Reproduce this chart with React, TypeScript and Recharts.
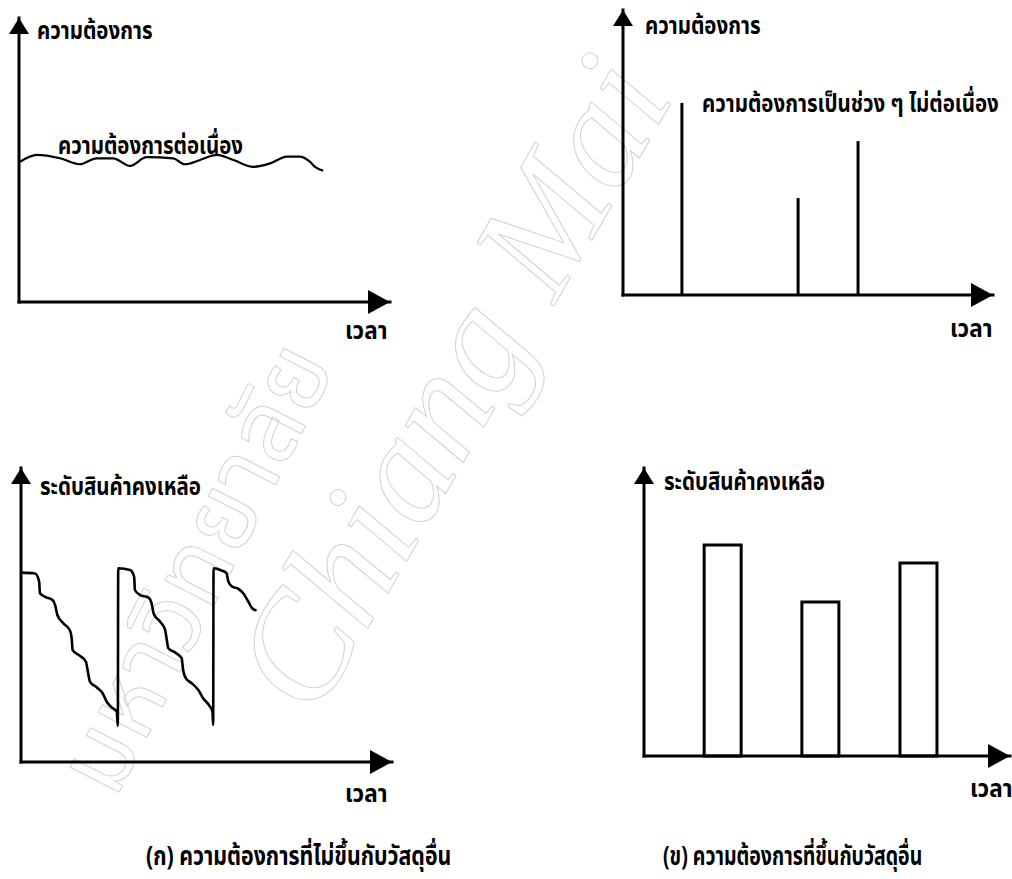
import { ComposedChart, Line, Bar, Scatter, XAxis, YAxis } from "recharts";

// (ก) บน - ความต้องการต่อเนื่อง
const steadyTime = [0.3, 4.8, 11.1, 16.4, 20.9, 25.4, 29.9, 34.4, 41.6, 44.7, 48.8, 53.3, 57.8, 63.2, 67.7, 72.2, 75.7, 78.4, 79.8, 82];
const steadyDemand = [49.4, 51.8, 50.6, 48.5, 50.6, 50.6, 47.9, 51, 50.6, 48.5, 50, 51.8, 50, 47.6, 48.8, 51.2, 51.2, 49.4, 47.6, 46.2];

// (ข) บน - ความต้องการเป็นช่วง ๆ
const lumpyTime = [15.9, 47.3, 63.5];
const lumpyDemand = [67.4, 34, 54];

// (ก) ล่าง - ระดับสินค้าคงเหลือ (ฟันเลื่อย)
const stockTime = [
  0.2, 3.8, 4.9, 5.1, 6.5, 8.5, 9.2, 9.8, 11.4, 13.2, 13.7, 13.9, 15.9, 17.5, 18.1, 18.6, 20.4, 22, 23.1, 24.4, 25.8, 26.1,
  26.2, 29.4, 30.5, 30.7, 32.1, 34.3, 35.2, 35.8, 37.5, 38.8, 39.3, 39.7, 41.5, 43.3, 43.7, 44.4, 46, 47.8, 49.1, 50.8, 51.6, 51.8,
  51.9, 54.1, 55.4, 55.9, 57, 58.6, 59.9, 61.3, 62.3, 63.5,
];
const stockLevel = [
  64.4, 64.1, 61.3, 57.4, 56.2, 55.1, 53.4, 50, 47.2, 44.7, 41.5, 38.1, 36.1, 34.1, 30.2, 27.3, 25.4, 23.4, 20.5, 18.6, 17.1, 12.3,
  65.9, 65.3, 63, 58.5, 56.8, 56, 54, 50.3, 47.7, 45.1, 41.5, 38.7, 37.3, 35.3, 31.3, 28.5, 26.8, 24.5, 21.7, 19.1, 17.1, 12.6,
  65.9, 65.1, 64.2, 61.3, 59.6, 58.9, 57.4, 54.5, 52.3, 51.5,
];

// (ข) ล่าง - ระดับสินค้าคงเหลือ เป็นล็อต
const lotTime = [21.4, 48.1, 74.9];
const lotLevel = [73.3, 53.5, 67];

const demandTitle = "ความต้องการ";
const stockTitle = "ระดับสินค้าคงเหลือ";
const timeTitle = "เวลา";

const toRows = (xs: number[], ys: number[]) => xs.map((x, i) => ({ x, y: ys[i] }));

const font = "'Noto Sans Thai', 'Noto Sans', 'DejaVu Sans', sans-serif";

function ArrowRight(props: any) {
  const { cx, cy } = props;
  return <polygon points={`${cx},${cy} ${cx - 22},${cy - 12} ${cx - 22},${cy + 12}`} fill="#000" />;
}

function ArrowUp(props: any) {
  const { cx, cy } = props;
  return <polygon points={`${cx},${cy} ${cx - 10},${cy + 16} ${cx + 10},${cy + 16}`} fill="#000" />;
}

// axes take 1px each, so plot area starts at left 14 / ends 14 above bottom
const m = { top: 4, right: 2, left: 13, bottom: 13 };
const axisStyle = { stroke: "#000", strokeWidth: 3, strokeLinecap: "square" };

function Panel({ left, top, w, h, data, children }: any) {
  return (
    <div style={{ position: "absolute", left: left - 14, top: top - m.top }}>
      <ComposedChart width={w + 14 + m.right} height={h + m.top + 14} margin={m} data={data}>
        <XAxis type="number" dataKey="x" domain={[0, 100]} height={1} tick={false} tickLine={false} axisLine={axisStyle} />
        <YAxis type="number" dataKey="y" domain={[0, 100]} width={1} tick={false} tickLine={false} axisLine={axisStyle} />
        {children}
        <Scatter data={[{ x: 100, y: 0 }]} shape={(p: any) => <ArrowRight {...p} />} isAnimationActive={false} />
        <Scatter data={[{ x: 0, y: 100 }]} shape={(p: any) => <ArrowUp {...p} />} isAnimationActive={false} />
      </ComposedChart>
    </div>
  );
}

function Txt({ x, y, size = 25, sx = 0.82, children }: any) {
  return (
    <div
      style={{
        position: "absolute",
        left: x,
        top: y,
        fontFamily: font,
        fontWeight: 700,
        fontSize: size,
        lineHeight: 1,
        whiteSpace: "nowrap",
        transform: `scaleX(${sx})`,
        transformOrigin: "left top",
        color: "#000",
      }}
    >
      {children}
    </div>
  );
}

// ลายน้ำจาง ๆ ของต้นฉบับ
function Watermark() {
  return (
    <svg width={1012} height={879} style={{ position: "absolute", left: 0, top: 0 }}>
      <g fill="none" stroke="#d2d2d2" strokeWidth={1}>
        <text transform="translate(115 800) rotate(-63)" fontFamily={font} fontSize={100}>
          มหาวิทยาลัย
        </text>
        <text
          transform="translate(315 720) rotate(-60)"
          fontFamily="'Liberation Serif', 'DejaVu Serif', serif"
          fontStyle="italic"
          fontSize={150}
        >
          Chiang Mai
        </text>
      </g>
    </svg>
  );
}

export default function App() {
  return (
    <div style={{ position: "absolute", left: 0, top: 0, width: 1012, height: 879, background: "#fff", overflow: "hidden" }}>
      <Watermark />
      <Panel left={19} top={18} w={371} h={284}>
        <Line
          data={toRows(steadyTime, steadyDemand)}
          dataKey="y"
          type="monotone"
          stroke="#000"
          strokeWidth={2.2}
          dot={false}
          isAnimationActive={false}
        />
      </Panel>
      <Panel left={623} top={10} w={370} h={285} data={toRows(lumpyTime, lumpyDemand)}>
        <Bar dataKey="y" fill="#000" barSize={3} isAnimationActive={false} />
      </Panel>
      <Panel left={21} top={468} w={371} h={294}>
        <Line
          data={toRows(stockTime, stockLevel)}
          dataKey="y"
          type="monotone"
          stroke="#000"
          strokeWidth={2.6}
          dot={false}
          isAnimationActive={false}
        />
      </Panel>
      <Panel left={644} top={468} w={366} h={288} data={toRows(lotTime, lotLevel)}>
        <Bar dataKey="y" fill="#fff" stroke="#000" strokeWidth={3} barSize={37} isAnimationActive={false} />
      </Panel>

      <Txt x={37} y={19}>{demandTitle}</Txt>
      <Txt x={58} y={134}>ความต้องการต่อเนื่อง</Txt>
      <Txt x={345} y={319} sx={0.9}>{timeTitle}</Txt>

      <Txt x={645} y={14}>{demandTitle}</Txt>
      <Txt x={702} y={92}>ความต้องการเป็นช่วง ๆ ไม่ต่อเนื่อง</Txt>
      <Txt x={950} y={317} sx={0.9}>{timeTitle}</Txt>

      <Txt x={40} y={475}>{stockTitle}</Txt>
      <Txt x={345} y={782} sx={0.9}>{timeTitle}</Txt>

      <Txt x={664} y={470}>{stockTitle}</Txt>
      <Txt x={970} y={777} sx={0.9}>{timeTitle}</Txt>

      <Txt x={146} y={844} size={26}>(ก) ความต้องการที่ไม่ขึ้นกับวัสดุอื่น</Txt>
      <Txt x={663} y={844} size={26} sx={0.75}>(ข) ความต้องการที่ขึ้นกับวัสดุอื่น</Txt>
    </div>
  );
}
